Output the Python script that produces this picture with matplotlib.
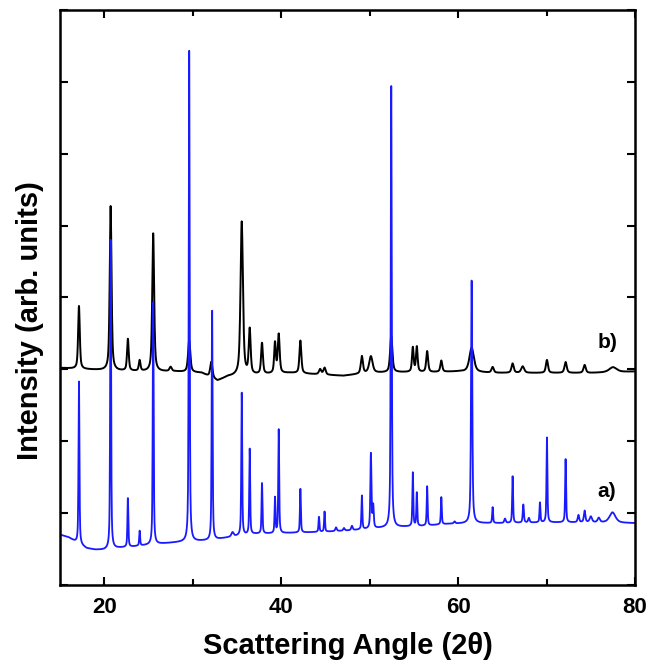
import numpy as np
import matplotlib.pyplot as plt
from matplotlib.ticker import MultipleLocator, NullFormatter

plt.rcParams['font.family'] = ['Liberation Sans', 'DejaVu Sans']
plt.rcParams['font.weight'] = 'bold'

# baseline points (2theta, intensity)
base_a_x = [15, 16, 17, 18, 19, 20, 21, 23, 26, 29, 32, 35, 37, 40, 45, 48, 52, 56, 59, 62, 65, 70, 75, 80]
base_a_y = [0.70, 0.66, 0.58, 0.51, 0.49, 0.49, 0.51, 0.53, 0.57, 0.60, 0.62, 0.68, 0.71, 0.72, 0.74, 0.76,
            0.80, 0.82, 0.85, 0.86, 0.86, 0.87, 0.87, 0.86]
base_b_x = [15, 18, 21, 25, 28, 31, 32.8, 34, 38, 41, 44, 47, 50, 53, 57, 60, 64, 70, 75, 80]
base_b_y = [3.02, 3.00, 2.98, 2.97, 2.97, 2.95, 2.84, 2.90, 2.93, 2.95, 2.93, 2.91, 2.95, 2.96, 2.96,
            2.97, 2.95, 2.95, 2.95, 2.97]

# peaks: position, top value, fwhm
peaks_a_pos = [17.14, 20.72, 22.67, 24.0, 25.53, 29.6, 32.19, 34.5, 35.54, 36.44, 37.83, 39.3, 39.72, 42.17,
               44.27, 44.9, 46.2, 47.1, 48.0, 49.12, 50.14, 50.4, 52.44, 54.88, 55.33, 56.5, 58.1, 59.6,
               61.53, 63.9, 65.3, 66.16, 67.37, 68.0, 69.25, 70.04, 72.15, 73.6, 74.3, 75.0, 75.9, 77.45]
peaks_a_top = [2.83, 4.80, 1.22, 0.75, 4.01, 7.43, 3.89, 0.73, 2.67, 1.89, 1.43, 1.21, 2.16, 1.35,
               0.95, 1.02, 0.80, 0.79, 0.82, 1.24, 1.82, 1.09, 6.94, 1.56, 1.29, 1.37, 1.22, 0.88,
               4.28, 1.08, 0.92, 1.51, 1.12, 0.93, 1.15, 2.05, 1.77, 0.97, 1.03, 0.95, 0.93, 1.01]
peaks_a_w = [0.12, 0.12, 0.12, 0.12, 0.12, 0.12, 0.12, 0.3, 0.12, 0.12, 0.12, 0.12, 0.12, 0.12,
             0.12, 0.12, 0.2, 0.2, 0.2, 0.12, 0.14, 0.15, 0.13, 0.12, 0.12, 0.12, 0.12, 0.2,
             0.16, 0.12, 0.2, 0.12, 0.15, 0.2, 0.12, 0.12, 0.12, 0.2, 0.2, 0.3, 0.3, 0.8]

peaks_b_pos = [17.14, 20.72, 22.67, 24.0, 25.53, 27.5, 29.6, 32.1, 35.54, 36.44, 37.83, 39.3, 39.72, 42.17,
               44.4, 44.9, 49.12, 50.14, 52.44, 54.88, 55.33, 56.5, 58.1, 61.53, 63.9, 66.16, 67.3,
               70.04, 72.15, 74.3, 77.5]
peaks_b_top = [3.88, 5.27, 3.42, 3.12, 4.90, 3.03, 3.40, 3.10, 5.05, 3.54, 3.36, 3.36, 3.48, 3.40,
               3.00, 3.02, 3.18, 3.18, 3.46, 3.30, 3.31, 3.25, 3.12, 3.30, 3.03, 3.08, 3.04,
               3.13, 3.10, 3.06, 3.03]
peaks_b_w = [0.22, 0.24, 0.22, 0.22, 0.25, 0.3, 0.3, 0.3, 0.32, 0.25, 0.24, 0.22, 0.25, 0.25,
             0.3, 0.3, 0.28, 0.45, 0.3, 0.22, 0.22, 0.25, 0.25, 0.6, 0.3, 0.3, 0.4,
             0.28, 0.3, 0.3, 1.0]


def pattern(bx, by, pos, top, fwhm):
    tt = np.arange(15, 80.001, 0.02)
    base = np.interp(tt, bx, by)
    y = base.copy()
    for p, h, w in zip(pos, top, fwhm):
        amp = h - np.interp(p, bx, by)
        g = (tt - p) / (w / 2)
        y += amp * (0.6 / (1 + g ** 2) + 0.4 * np.exp(-np.log(2) * g ** 2))
    return tt, y


xa, ya = pattern(base_a_x, base_a_y, peaks_a_pos, peaks_a_top, peaks_a_w)
xb, yb = pattern(base_b_x, base_b_y, peaks_b_pos, peaks_b_top, peaks_b_w)

fig = plt.figure(figsize=(6.49, 6.67), dpi=100)
ax = fig.add_axes([0.0925, 0.123, 0.886, 0.862])

ax.plot(xb, yb, color='black', linewidth=1.4)
ax.plot(xa, ya, color='#1a1aff', linewidth=1.3)

ax.text(76.85, 3.38, 'b)', fontsize=15, fontweight='bold', ha='center', va='center')
ax.text(76.85, 1.30, 'a)', fontsize=15, fontweight='bold', ha='center', va='center')

ax.set_xlim(15, 80)
ax.set_ylim(0, 8)
ax.xaxis.set_major_locator(MultipleLocator(20))
ax.xaxis.set_minor_locator(MultipleLocator(10))
ax.yaxis.set_major_locator(MultipleLocator(1))
ax.yaxis.set_major_formatter(NullFormatter())
ax.tick_params(which='both', direction='in', top=True, right=True, width=1.5)
ax.tick_params(which='major', length=6, labelsize=16, pad=9)
ax.tick_params(which='minor', length=4)
for s in ax.spines.values():
    s.set_linewidth(1.8)

ax.set_xlabel('Scattering Angle (2θ)', fontsize=21, fontweight='bold', labelpad=10)
ax.set_ylabel('Intensity (arb. units)', fontsize=21, fontweight='bold')
ax.yaxis.set_label_coords(-0.028, 0.46)

fig.savefig('out.png', dpi=100)
